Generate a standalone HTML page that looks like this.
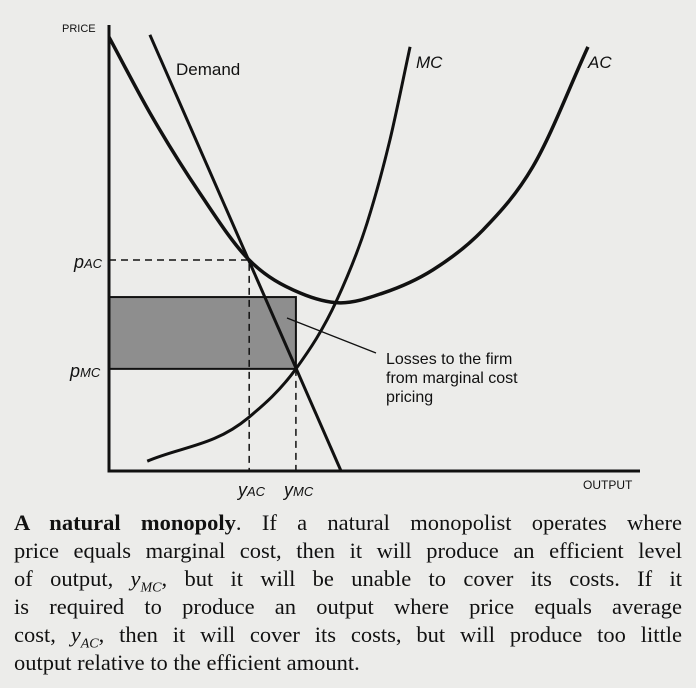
<!DOCTYPE html>
<html><head><meta charset="utf-8"><style>
body{margin:0;background:#ececea;width:696px;height:688px;overflow:hidden}
#cap{position:absolute;left:14px;top:509px;width:668px;font-family:"Liberation Serif",serif;font-size:22.5px;line-height:28px;color:#111}
#cap div{text-align:justify;text-align-last:justify;white-space:nowrap;height:28px}
#cap div.last{text-align-last:left}
#cap sub{font-size:14px;line-height:0}
</style></head><body>
<svg id="chart" width="696" height="500" style="position:absolute;left:0;top:0"></svg>
<div id="cap">
<div><b>A natural monopoly</b>. If a natural monopolist operates where</div>
<div>price equals marginal cost, then it will produce an efficient level</div>
<div>of output, <i>y<sub>MC</sub></i>, but it will be unable to cover its costs. If it</div>
<div>is required to produce an output where price equals average</div>
<div>cost, <i>y<sub>AC</sub></i>, then it will cover its costs, but will produce too little</div>
<div class="last">output relative to the efficient amount.</div>
</div>
<script>
const demandX=[0.77,4.37], demandY=[9.78,0];
const mcX=[0.72,2.62,3.52,4.29,4.86,5.29,5.67], mcY=[0.22,1.19,2.29,3.83,5.56,7.42,9.51];
const acX=[0,0.77,1.71,2.64,3.60,4.35,5.16,6.10,7.04,7.98,9.02], acY=[9.73,8.03,6.23,4.73,3.99,3.77,3.99,4.51,5.40,6.82,9.51];
const yAC=2.64, yMC=3.52, pAC=4.73, lossTop=3.9, pMC=2.29;
const sx=v=>109+v*53.1, sy=v=>471-v*44.6;
const svg=document.getElementById('chart'), NS='http://www.w3.org/2000/svg';
function add(tag,attrs,name,txt){const e=document.createElementNS(NS,tag);for(const k in attrs)e.setAttribute(k,attrs[k]);


if(txt)e.innerHTML=txt;svg.appendChild(e);return e;}
function smooth(xs,ys){const p=xs.map((x,i)=>[sx(x),sy(ys[i])]);const n=p.length;
const s=[];for(let i=0;i<n-1;i++)s.push((p[i+1][1]-p[i][1])/(p[i+1][0]-p[i][0]));
const m=p.map((q,i)=>{if(i===0)return s[0];if(i===n-1)return s[n-2];const h0=p[i][0]-p[i-1][0],h1=p[i+1][0]-p[i][0];return (h1*s[i-1]+h0*s[i])/(h0+h1);});
let d='M'+p[0];for(let i=0;i<n-1;i++){const b=p[i],c=p[i+1],dx=(c[0]-b[0])/3;
d+=` C${b[0]+dx},${b[1]+m[i]*dx} ${c[0]-dx},${c[1]-m[i+1]*dx} ${c[0]},${c[1]}`;}return d;}
add('rect',{x:sx(0),y:sy(lossTop),width:sx(yMC)-sx(0),height:sy(pMC)-sy(lossTop),fill:'#8e8e8e',stroke:'#111','stroke-width':2},'loss-area');
add('path',{d:`M${sx(0)},${sy(pAC)}H${sx(yAC)}V${sy(0)}M${sx(yMC)},${sy(pMC)}V${sy(0)}`,stroke:'#111','stroke-width':1.5,'stroke-dasharray':'7,5',fill:'none'},'guide-lines');
add('path',{d:`M${sx(0)},25V${sy(0)}H640`,stroke:'#111','stroke-width':3,fill:'none'},'axes');
add('path',{d:`M${sx(demandX[0])},${sy(demandY[0])}L${sx(demandX[1])},${sy(demandY[1])}`,stroke:'#111','stroke-width':3},'demand-line');
add('path',{d:smooth(mcX,mcY),stroke:'#111','stroke-width':3,fill:'none'},'mc-curve');
add('path',{d:smooth(acX,acY),stroke:'#111','stroke-width':3.5,fill:'none'},'ac-curve');
add('path',{d:'M287,318L376,353',stroke:'#111','stroke-width':1.3},'annotation-pointer');
const f='font-family:"Liberation Sans",sans-serif;fill:#111';
add('text',{x:62,y:32,style:f+';font-size:11px'},'y-axis-title','PRICE');
add('text',{x:583,y:489,style:f+';font-size:12px'},'x-axis-title','OUTPUT');
add('text',{x:176,y:75,style:f+';font-size:17px'},'demand-label','Demand');
add('text',{x:416,y:68,style:f+';font-size:17px;font-style:italic'},'mc-label','MC');
add('text',{x:588,y:68,style:f+';font-size:17px;font-style:italic'},'ac-label','AC');
add('text',{x:74,y:268,style:f+';font-size:18px;font-style:italic'},'p-ac-label','p<tspan font-size="13">AC</tspan>');
add('text',{x:70,y:377,style:f+';font-size:18px;font-style:italic'},'p-mc-label','p<tspan font-size="13">MC</tspan>');
add('text',{x:238,y:496,style:f+';font-size:18px;font-style:italic'},'y-ac-label','y<tspan font-size="13">AC</tspan>');
add('text',{x:284,y:496,style:f+';font-size:18px;font-style:italic'},'y-mc-label','y<tspan font-size="13">MC</tspan>');
['Losses to the firm','from marginal cost','pricing'].forEach((t,i)=>add('text',{x:386,y:364+i*19,style:f+';font-size:16px'},'loss-label-line',t));
</script>
</body></html>
